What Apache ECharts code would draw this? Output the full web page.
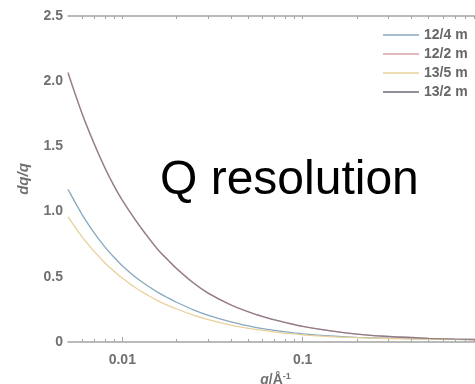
<!DOCTYPE html>
<html>
<head>
<meta charset="utf-8">
<style>
  html, body { margin: 0; padding: 0; background: #fff; }
  #chart { width: 475px; height: 384px; }
</style>
<script src="https://cdn.jsdelivr.net/npm/echarts@6/dist/echarts.min.js"></script>
</head>
<body>
<div id="chart"></div>
<script>
// Scattering vector q (1/Å) at which the resolution is sampled
const qValues = [0.005, 0.006, 0.007, 0.008, 0.009, 0.01, 0.012, 0.014, 0.016, 0.018, 0.02,
  0.025, 0.03, 0.04, 0.05, 0.06, 0.07, 0.08, 0.1, 0.15, 0.2, 0.3, 0.5, 0.7, 1.0];

// Relative resolution dq/q per instrument setting
const res12_4 = [1.17, 0.975, 0.835, 0.73, 0.65, 0.585, 0.49, 0.425, 0.375, 0.337, 0.305,
  0.245, 0.205, 0.155, 0.124, 0.103, 0.089, 0.078, 0.063, 0.045, 0.036, 0.029, 0.023, 0.02, 0.018];
const res12_2 = [2.07, 1.75, 1.52, 1.34, 1.20, 1.09, 0.925, 0.80, 0.70, 0.628, 0.565,
  0.45, 0.375, 0.285, 0.232, 0.196, 0.17, 0.15, 0.12, 0.081, 0.061, 0.042, 0.028, 0.022, 0.018];
const res13_5 = [0.96, 0.805, 0.693, 0.608, 0.543, 0.49, 0.41, 0.355, 0.312, 0.28, 0.253,
  0.205, 0.172, 0.13, 0.105, 0.089, 0.077, 0.068, 0.055, 0.04, 0.033, 0.027, 0.022, 0.02, 0.017];
const res13_2 = [2.06, 1.745, 1.515, 1.335, 1.195, 1.085, 0.922, 0.797, 0.697, 0.625, 0.562,
  0.448, 0.373, 0.284, 0.231, 0.195, 0.169, 0.149, 0.119, 0.081, 0.061, 0.042, 0.028, 0.022, 0.018];

const seriesNames = ['12/4 m', '12/2 m', '13/5 m', '13/2 m'];
const seriesData = [res12_4, res12_2, res13_5, res13_2];
const seriesColors = ['#86a9bf', '#d9a3ab', '#e9d09a', '#6e6a7c'];

// Axis ticks
const yTicks = [0, 0.5, 1.0, 1.5, 2.0, 2.5];
const xMajorTicks = [0.01, 0.1, 1];
const xMinorTicks = [0.006, 0.007, 0.008, 0.009, 0.02, 0.03, 0.04, 0.05, 0.06, 0.07, 0.08, 0.09,
  0.2, 0.3, 0.4, 0.5, 0.6, 0.7, 0.8, 0.9];

const Q_MIN = 0.005;
const Q_MAX = 1;

const FONT = '"Liberation Sans", Arial, sans-serif';
const AXIS_GRAY = '#a4a4a4';
const LABEL_GRAY = '#707070';

const pairs = (ys) => qValues.map((q, i) => [q, ys[i]]);
const isDecade = (v) => Math.abs(Math.log10(v) - Math.round(Math.log10(v))) < 1e-6;
const toExp = (list) => list.map((v) => Math.log10(v));

// Tick-only axes laid over the log axis, running in decade-exponent space
function tickAxis(position, ticks, length, showLine) {
  return {
    type: 'value',
    min: Math.log10(Q_MIN),
    max: Math.log10(Q_MAX),
    position,
    axisLine: { show: showLine, lineStyle: { color: AXIS_GRAY, width: 1.5 } },
    axisTick: { show: true, inside: true, length, customValues: toExp(ticks), lineStyle: { color: AXIS_GRAY, width: 1 } },
    axisLabel: { show: false },
    splitLine: { show: false }
  };
}

const chart = echarts.init(document.getElementById('chart'), null, { renderer: 'canvas' });

chart.setOption({
  animation: false,
  backgroundColor: '#fff',
  grid: { left: 68, top: 16, width: 415, height: 326, containLabel: false, outerBoundsMode: 'none' },
  legend: {
    orient: 'vertical',
    left: 383,
    top: 28,
    padding: 0,
    itemWidth: 36,
    itemHeight: 1.5,
    itemGap: 5,
    icon: 'rect',
    data: seriesNames,
    textStyle: { fontFamily: FONT, fontSize: 14, color: '#666', fontWeight: 'bold' }
  },
  graphic: [{
    type: 'text',
    left: 160,
    top: 157,
    style: { text: 'Q resolution', font: '48px ' + FONT, fill: '#000' }
  }],
  xAxis: [
    {
      type: 'log',
      logBase: 10,
      min: Q_MIN,
      max: Q_MAX,
      position: 'bottom',
      axisLine: { show: true, lineStyle: { color: AXIS_GRAY, width: 1.5 } },
      axisTick: { show: false },
      axisLabel: {
        margin: 11,
        fontFamily: FONT, fontSize: 14, fontWeight: 'bold', color: LABEL_GRAY,
        formatter: (v) => isDecade(v) ? String(+v.toPrecision(3)) : ''
      },
      splitLine: { show: false },
      name: '{i|q}{n|/Å}{s|-1}',
      nameLocation: 'middle',
      nameGap: 26,
      nameTextStyle: {
        rich: {
          i: { fontFamily: FONT, fontSize: 14, fontStyle: 'italic', color: LABEL_GRAY, fontWeight: 'bold' },
          n: { fontFamily: FONT, fontSize: 14, color: LABEL_GRAY, fontWeight: 'bold' },
          s: { fontFamily: FONT, fontSize: 9, color: LABEL_GRAY, fontWeight: 'bold', verticalAlign: 'top', padding: [0, 0, 8, 0] }
        }
      }
    },
    tickAxis('bottom', xMajorTicks, 5, false),
    tickAxis('bottom', xMinorTicks, 3, false),
    tickAxis('top', xMajorTicks.concat(xMinorTicks), 3, true)
  ],
  yAxis: {
    type: 'value',
    min: yTicks[0],
    max: yTicks[yTicks.length - 1],
    interval: 0.5,
    axisLine: { show: true, lineStyle: { color: AXIS_GRAY, width: 1.5 } },
    axisTick: { show: true, inside: false, length: 3, lineStyle: { color: AXIS_GRAY } },
    axisLabel: {
      margin: 5,
      fontFamily: FONT, fontSize: 14, fontWeight: 'bold', color: LABEL_GRAY,
      formatter: (v) => v === 0 ? '0' : v.toFixed(1)
    },
    splitLine: { show: false },
    name: '{i|dq/q}',
    nameLocation: 'middle',
    nameRotate: 90,
    nameGap: 37,
    nameTextStyle: {
      rich: { i: { fontFamily: FONT, fontSize: 15, fontStyle: 'italic', color: LABEL_GRAY, fontWeight: 'bold' } }
    }
  },
  series: seriesNames.map((name, k) => ({
    name,
    type: 'line',
    xAxisIndex: 0,
    data: pairs(seriesData[k]),
    showSymbol: false,
    smooth: 0.3,
    color: seriesColors[k],
    lineStyle: { width: 1.3, color: seriesColors[k], opacity: k === 3 ? 0.7 : 1 },
    z: 2 + k
  }))
});
</script>
</body>
</html>
